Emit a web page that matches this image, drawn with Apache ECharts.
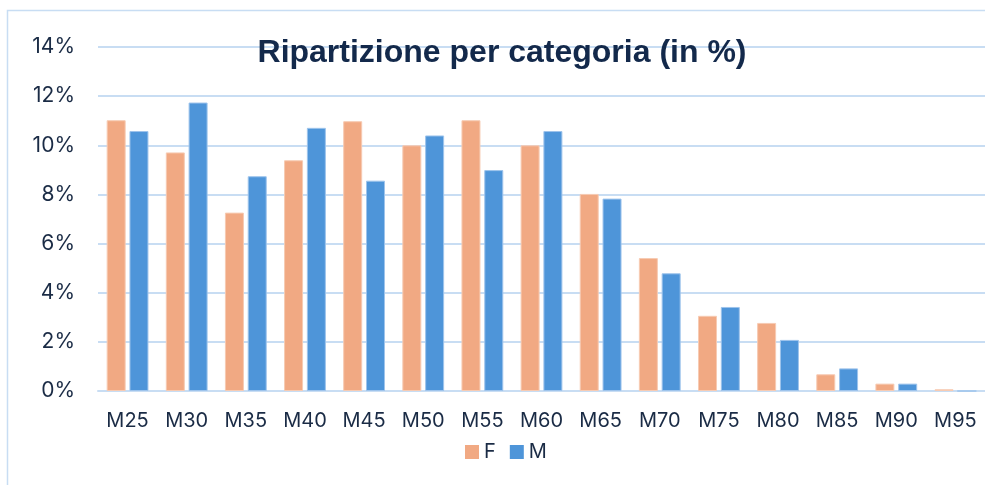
<!DOCTYPE html>
<html>
<head>
<meta charset="utf-8">
<script src="https://cdn.jsdelivr.net/npm/echarts@6/dist/echarts.min.js"></script>
<style>
	html, body { margin: 0; padding: 0; background: #fff; }
	#chart { width: 985px; height: 485px; }
</style>
</head>
<body>
<div id="chart"></div>
<script>
const categories = ['M25', 'M30', 'M35', 'M40', 'M45', 'M50', 'M55', 'M60', 'M65', 'M70', 'M75', 'M80', 'M85', 'M90', 'M95']
const valuesF = [11.02, 9.71, 7.26, 9.39, 10.98, 10.0, 11.02, 10.0, 8.02, 5.41, 3.06, 2.77, 0.68, 0.30, 0.07]
const valuesM = [10.58, 11.74, 8.74, 10.71, 8.56, 10.40, 8.99, 10.58, 7.83, 4.79, 3.42, 2.08, 0.92, 0.30, 0.0]

const textColor = '#1a2b45'
const gridColor = '#c8ddf3'

const node = document.getElementById('chart')
const myChart = echarts.init(node)

const option = {
	animation: false,
	title: {
		text: 'Ripartizione per categoria (in %)',
		left: 497,
		textAlign: 'center',
		top: 32,
		textStyle: {
			fontFamily: 'Liberation Sans, Arial, sans-serif',
			fontWeight: 'bold',
			fontSize: 32,
			color: '#13294b'
		}
	},
	graphic: [
		{
			type: 'rect',
			silent: true,
			z: -1,
			shape: { x: 7.5, y: 10.5, width: 1000, height: 500 },
			style: { fill: null, stroke: '#c8ddf3', lineWidth: 1.5 }
		}
	],
	legend: {
		data: ['F', 'M'],
		left: 460,
		top: 437,
		itemWidth: 14,
		itemHeight: 14,
		itemGap: 14,
		itemStyle: { borderWidth: 0 },
		icon: 'rect',
		textStyle: {
			fontFamily: 'Inter, sans-serif',
			fontSize: 20,
			color: textColor
		}
	},
	grid: {
		left: 98,
		right: 0,
		top: 47,
		bottom: 94,
		containLabel: false
	},
	xAxis: {
		type: 'category',
		data: categories,
		axisLine: { lineStyle: { color: gridColor, width: 2 } },
		axisTick: { show: false },
		axisLabel: {
			fontFamily: 'Inter, sans-serif',
			fontSize: 20,
			color: textColor,
			margin: 20
		}
	},
	yAxis: {
		type: 'value',
		min: 0,
		max: 14,
		interval: 2,
		axisLine: { show: false },
		axisTick: { show: false },
		axisLabel: {
			formatter: '{value}%',
			fontFamily: 'Inter, sans-serif',
			fontSize: 21,
			color: textColor,
			margin: 23
		},
		splitLine: { lineStyle: { color: gridColor, width: 2 } }
	},
	series: [
		{
			name: 'F',
			type: 'bar',
			data: valuesF,
			barWidth: 19,
			barGap: '20%',
			itemStyle: { color: '#f1a983', borderColor: '#f7cbb3', borderWidth: 1 }
		},
		{
			name: 'M',
			type: 'bar',
			data: valuesM,
			barWidth: 19,
			itemStyle: { color: '#4e95d9', borderColor: '#9ec4ec', borderWidth: 1 }
		}
	]
}

myChart.setOption(option)
</script>
</body>
</html>
